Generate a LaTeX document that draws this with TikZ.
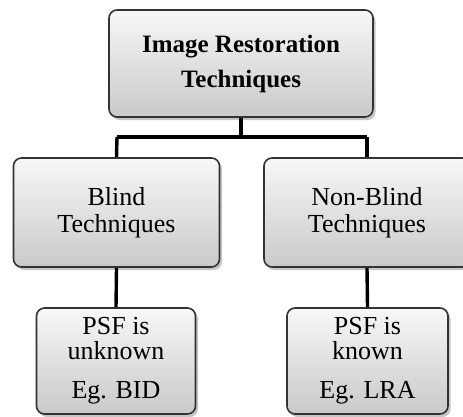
\documentclass[tikz,border=0pt]{standalone}
\usepackage{fontspec}
\setmainfont{Liberation Serif}
\usetikzlibrary{shadows}
\begin{document}
\begin{tikzpicture}[x=1pt,y=-1pt,
  box/.style={draw=black!80,line width=1.6pt,rounded corners=8pt,
    top color=gray!6,bottom color=gray!42,align=center,inner sep=0pt,
    drop shadow={opacity=0.45,shadow xshift=2.5pt,shadow yshift=-3pt},
    anchor=center},
  conn/.style={line width=3.4pt,black}]
\useasboundingbox (0,0) rectangle (463,416);
\clip (0,0) rectangle (463,416);
\coordinate (hb) at (241,137);
\coordinate (hl) at (117,137);
\coordinate (hr) at (367,137);
\node[box,minimum width=264pt,minimum height=107pt,font=\fontsize{25}{35}\selectfont\bfseries] (top) at (241,63.5) {Image Restoration\\Techniques};
\node[box,minimum width=206pt,minimum height=109pt,font=\fontsize{26}{27}\selectfont] (blind) at (116.5,212.5) {Blind\\Techniques};
\node[box,minimum width=206pt,minimum height=109pt,font=\fontsize{26}{27}\selectfont] (nonblind) at (367,212.5) {Non-Blind\\Techniques};
\node[box,minimum width=159pt,minimum height=106pt,font=\fontsize{26}{25}\selectfont] (unk) at (116,361) {PSF is\\unknown\\[14pt]Eg. BID};
\node[box,minimum width=161pt,minimum height=106pt,font=\fontsize{26}{25}\selectfont] (kn) at (367.5,361) {PSF is\\known\\[14pt]Eg. LRA};
\draw[conn] (top.south) -- (hb);
\draw[conn] (hl) -- (hr);
\draw[conn] (hl) -- (blind.north);
\draw[conn] (hr) -- (nonblind.north);
\draw[conn] (blind.south) -- (unk.north);
\draw[conn] (nonblind.south) -- (kn.north);
\end{tikzpicture}
\end{document}
